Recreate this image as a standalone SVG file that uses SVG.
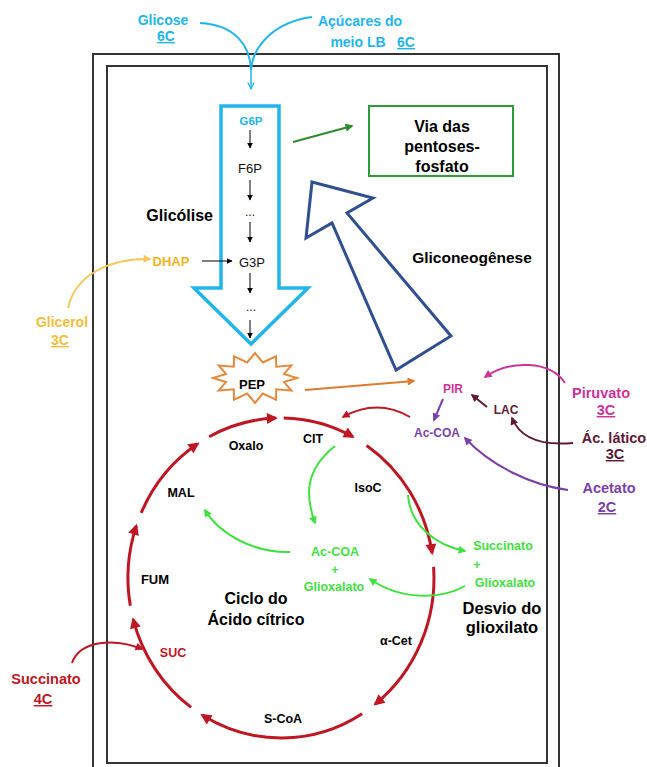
<svg xmlns="http://www.w3.org/2000/svg" width="647" height="767" viewBox="0 0 647 767">
<style>
text{font-family:"Liberation Sans",Arial,sans-serif;font-weight:bold;text-anchor:middle}
.reg{font-weight:normal}
.u{text-decoration:underline}
.cyc{fill:none;stroke:#BE1622;stroke-width:3;marker-end:url(#mRedBig)}
.thin{fill:none;stroke:#000;stroke-width:1;marker-end:url(#mBlk)}
.gr{fill:none;stroke:#3FE03F;stroke-width:2;marker-end:url(#mGrn)}
</style>
<defs>
<marker id="mRedBig" viewBox="0 0 10 10" refX="8" refY="5" markerUnits="userSpaceOnUse" markerWidth="13" markerHeight="11" orient="auto"><path d="M0,0 L10,5 L0,10 z" fill="#BE1622"/></marker>
<marker id="mRed" viewBox="0 0 10 10" refX="8" refY="5" markerUnits="userSpaceOnUse" markerWidth="9" markerHeight="8" orient="auto"><path d="M0,0 L10,5 L0,10 z" fill="#BE1622"/></marker>
<marker id="mBlk" viewBox="0 0 10 10" refX="9" refY="5" markerUnits="userSpaceOnUse" markerWidth="6" markerHeight="6" orient="auto"><path d="M0,0 L10,5 L0,10 z" fill="#000"/></marker>
<marker id="mCyan" viewBox="0 0 10 10" refX="9" refY="5" markerUnits="userSpaceOnUse" markerWidth="8" markerHeight="8" orient="auto"><path d="M1,1 L9,5 L1,9" fill="none" stroke="#22B5EB" stroke-width="1.5"/></marker>
<marker id="mYel" viewBox="0 0 10 10" refX="8" refY="5" markerUnits="userSpaceOnUse" markerWidth="9" markerHeight="8" orient="auto"><path d="M0,0 L10,5 L0,10 z" fill="#F5C85A"/></marker>
<marker id="mDkGrn" viewBox="0 0 10 10" refX="8" refY="5" markerUnits="userSpaceOnUse" markerWidth="9" markerHeight="8" orient="auto"><path d="M0,0 L10,5 L0,10 z" fill="#2E8B2E"/></marker>
<marker id="mOrg" viewBox="0 0 10 10" refX="8" refY="5" markerUnits="userSpaceOnUse" markerWidth="9" markerHeight="8" orient="auto"><path d="M0,0 L10,5 L0,10 z" fill="#DD7C2E"/></marker>
<marker id="mMag" viewBox="0 0 10 10" refX="8" refY="5" markerUnits="userSpaceOnUse" markerWidth="9" markerHeight="8" orient="auto"><path d="M0,0 L10,5 L0,10 z" fill="#CC3399"/></marker>
<marker id="mMar" viewBox="0 0 10 10" refX="8" refY="5" markerUnits="userSpaceOnUse" markerWidth="9" markerHeight="8" orient="auto"><path d="M0,0 L10,5 L0,10 z" fill="#5E1A36"/></marker>
<marker id="mPur" viewBox="0 0 10 10" refX="8" refY="5" markerUnits="userSpaceOnUse" markerWidth="9" markerHeight="8" orient="auto"><path d="M0,0 L10,5 L0,10 z" fill="#7B3FA8"/></marker>
<marker id="mGrn" viewBox="0 0 10 10" refX="8" refY="5" markerUnits="userSpaceOnUse" markerWidth="9" markerHeight="8" orient="auto"><path d="M0,0 L10,5 L0,10 z" fill="#3FE03F"/></marker>
</defs>
<rect width="647" height="767" fill="#fff"/>
<g id="frame" fill="none" stroke="#333" stroke-width="2">
<rect x="93" y="54" width="466" height="730"/>
<rect x="107" y="66" width="440" height="697"/>
</g>
<g id="glicolise">
<path d="M221,106 L279,106 L279,288 L308,288 L251,344 L194,288 L221,288 Z" fill="none" stroke="#22B5EB" stroke-width="3.5" stroke-linejoin="miter"/>
<text x="251" y="125" font-size="11.5" fill="#22B5EB">G6P</text>
<text class="reg" x="250" y="173" font-size="13" fill="#111">F6P</text>
<text class="reg" x="250" y="216" font-size="12" fill="#111">...</text>
<text class="reg" x="252" y="267" font-size="13" fill="#111">G3P</text>
<text class="reg" x="251" y="311" font-size="12" fill="#111">...</text>
<text x="213" y="221" font-size="16" fill="#000" style="text-anchor:end">Glicólise</text>
</g>
<g id="pentoses">
<rect x="369" y="106" width="144" height="70" fill="none" stroke="#2E9A3A" stroke-width="2"/>
<text x="442" y="132" font-size="16" fill="#000">Via das</text>
<text x="442" y="152" font-size="16" fill="#000">pentoses-</text>
<text x="442" y="172" font-size="16" fill="#000">fosfato</text>
</g>
<g id="gliconeogenese">
<path d="M312,182 L373,198 L347,213 L451,336 L396,370 L332,223 L306,238 Z" fill="none" stroke="#2F4F8F" stroke-width="3" stroke-linejoin="miter"/>
<text x="472" y="263" font-size="15.5" fill="#000">Gliconeogênese</text>
</g>
<g id="glicose">
<text x="163" y="25" font-size="14" fill="#22B5EB">Glicose</text>
<text class="u" x="166" y="41" font-size="14" fill="#22B5EB">6C</text>
</g>
<g id="acucares">
<text x="360" y="26" font-size="14" fill="#22B5EB">Açúcares do</text>
<text x="358" y="47" font-size="14" fill="#22B5EB">meio LB</text>
<text class="u" x="406" y="47" font-size="14" fill="#22B5EB">6C</text>
</g>
<g id="dhap"><text x="171" y="266" font-size="13" fill="#F2B51E">DHAP</text></g>
<g id="glicerol">
<text x="62" y="327" font-size="14" fill="#F2BE3A">Glicerol</text>
<text class="u" x="60" y="345" font-size="14" fill="#F2BE3A">3C</text>
</g>
<g id="pep">
<polygon points="297,378 284,382.1 291.4,390.5 276.2,389.3 276,399.7 262.8,393.5 255,403 247.2,393.5 234,399.7 233.8,389.3 218.6,390.5 226,382.1 213,378 226,373.9 218.6,365.5 233.8,366.7 234,356.3 247.2,362.5 255,353 262.8,362.5 276,356.3 276.2,366.7 291.4,365.5 284,373.9" fill="#fff" stroke="#E58A3C" stroke-width="2"/>
<text x="252" y="389" font-size="13" fill="#000">PEP</text>
</g>
<g id="pir"><text x="453" y="393" font-size="12" fill="#CC3399">PIR</text></g>
<g id="lac"><text x="506" y="414" font-size="12" fill="#5E1A36">LAC</text></g>
<g id="accoa"><text x="437" y="437" font-size="12" fill="#7B3FA8">Ac-COA</text></g>
<g id="piruvato">
<text x="601" y="398" font-size="14.5" fill="#CC3399">Piruvato</text>
<text class="u" x="606" y="415" font-size="14.5" fill="#CC3399">3C</text>
</g>
<g id="aclatico">
<text x="614" y="443" font-size="14.5" fill="#5E1A36">Ác. lático</text>
<text class="u" x="615" y="459" font-size="14.5" fill="#5E1A36">3C</text>
</g>
<g id="acetato">
<text x="609" y="493" font-size="14.5" fill="#7B3FA8">Acetato</text>
<text class="u" x="607" y="512" font-size="14.5" fill="#7B3FA8">2C</text>
</g>
<g id="succinato-ext">
<text x="46" y="684" font-size="14.5" fill="#BE1622">Succinato</text>
<text class="u" x="43" y="704" font-size="14.5" fill="#BE1622">4C</text>
</g>
<g id="ciclo">
<text x="246" y="450" font-size="12.5" fill="#000">Oxalo</text>
<text x="313" y="443" font-size="12.5" fill="#000">CIT</text>
<text x="368" y="492" font-size="12.5" fill="#000">IsoC</text>
<text x="181" y="497" font-size="12.5" fill="#000">MAL</text>
<text x="155" y="584" font-size="13" fill="#000">FUM</text>
<text x="396" y="645" font-size="12.5" fill="#000">α-Cet</text>
<text x="283" y="723" font-size="12.5" fill="#000">S-CoA</text>
<text x="173" y="657" font-size="12.5" fill="#BE1622">SUC</text>
<text x="256" y="604" font-size="16" fill="#000">Ciclo do</text>
<text x="256" y="625" font-size="16" fill="#000">Ácido cítrico</text>
</g>
<g id="glioxilato-par1">
<text x="335" y="556" font-size="12.5" fill="#3FE03F">Ac-COA</text>
<text x="335" y="574" font-size="12.5" fill="#3FE03F">+</text>
<text x="334" y="591" font-size="12.5" fill="#3FE03F">Glioxalato</text>
</g>
<g id="glioxilato-par2">
<text x="503" y="550" font-size="12.5" fill="#3FE03F">Succinato</text>
<text x="477" y="569" font-size="12.5" fill="#3FE03F">+</text>
<text x="505" y="587" font-size="12.5" fill="#3FE03F">Glioxalato</text>
</g>
<g id="desvio">
<text x="502" y="614" font-size="16.5" fill="#000">Desvio do</text>
<text x="502" y="633" font-size="16.5" fill="#000">glioxilato</text>
</g>
<g id="connectors">
<path d="M200,23 C235,25 250,45 251,70" fill="none" stroke="#22B5EB" stroke-width="2"/>
<path d="M312,17 C275,22 253,45 251,70" fill="none" stroke="#22B5EB" stroke-width="2"/>
<path d="M251,68 L251,89" fill="none" stroke="#22B5EB" stroke-width="1.5" marker-end="url(#mCyan)"/>
<path class="thin" d="M250,130 L250,148"/>
<path class="thin" d="M250,180 L250,200"/>
<path class="thin" d="M250,222 L250,242"/>
<path class="thin" d="M202,261 L232,261"/>
<path class="thin" d="M250,273 L250,293"/>
<path class="thin" d="M250,320 L250,338"/>
<path d="M68,308 C75,275 110,258 150,259" fill="none" stroke="#F5C85A" stroke-width="2" marker-end="url(#mYel)"/>
<path d="M293,142 L352,126" fill="none" stroke="#2E8B2E" stroke-width="2" marker-end="url(#mDkGrn)"/>
<path d="M305,390 L414,381" fill="none" stroke="#DD7C2E" stroke-width="2" marker-end="url(#mOrg)"/>
<path d="M565,383 C550,360 510,360 485,377" fill="none" stroke="#CC3399" stroke-width="2" marker-end="url(#mMag)"/>
<path d="M573,443 C540,446 520,438 512,418" fill="none" stroke="#5E1A36" stroke-width="2" marker-end="url(#mMar)"/>
<path d="M487,407 L472,395" fill="none" stroke="#5E1A36" stroke-width="2" marker-end="url(#mMar)"/>
<path d="M443,399 L434,420" fill="none" stroke="#7B3FA8" stroke-width="2" marker-end="url(#mPur)"/>
<path d="M568,490 C530,485 490,465 465,438" fill="none" stroke="#7B3FA8" stroke-width="2" marker-end="url(#mPur)"/>
<path d="M410,417 Q377,398 343,417" fill="none" stroke="#BE1622" stroke-width="2" marker-end="url(#mRed)"/>
<path d="M72,663 C80,640 115,638 142,649" fill="none" stroke="#BE1622" stroke-width="2" marker-end="url(#mRed)"/>
<path class="cyc" d="M191.1,707.4 A153,160 0 0 1 133.2,619.4"/>
<path class="cyc" d="M130.3,605.8 A153,160 0 0 1 136.3,525.9"/>
<path class="cyc" d="M141.2,512.9 A153,160 0 0 1 197.7,443.8"/>
<path class="cyc" d="M209.2,436.7 A153,160 0 0 1 275.7,418.1"/>
<path class="cyc" d="M283.7,418 A153,160 0 0 1 352.8,436.7"/>
<path class="cyc" d="M366.6,445.4 A153,160 0 0 1 432.1,553"/>
<path class="cyc" d="M433.6,566.8 A153,160 0 0 1 375.2,704.1"/>
<path class="cyc" d="M362.1,713.7 A153,160 0 0 1 202.2,715.1"/>
<path class="gr" d="M335,446 C305,470 305,495 315,523"/>
<path class="gr" d="M290,552 C255,553 220,535 205,510"/>
<path class="gr" d="M408,495 C410,525 435,545 465,551"/>
<path class="gr" d="M465,586 C440,600 400,600 370,579"/>
</g>
</svg>
